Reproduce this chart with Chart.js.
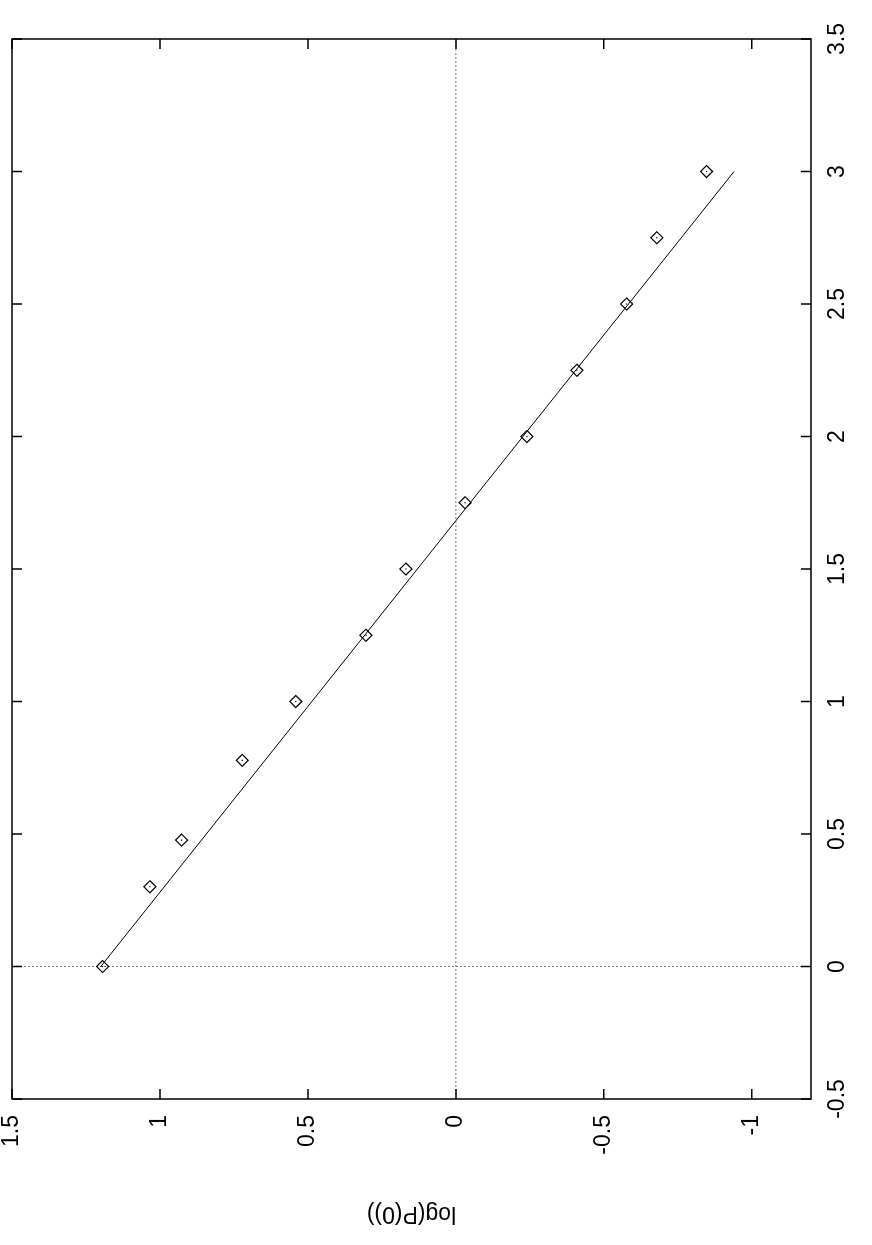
<!DOCTYPE html>
<html>
<head>
<meta charset="utf-8">
<script src="https://cdn.jsdelivr.net/npm/chart.js@4/dist/chart.umd.min.js"></script>
<style>
  html, body { margin: 0; padding: 0; background: #fff; overflow: hidden; }
  /* the plot is drawn upright, then turned a quarter turn to the left like the reference */
  #caixa { position: absolute; left: 0; top: 0; width: 1245px; height: 872px;
           transform-origin: 0 0; transform: translate(0, 1245px) rotate(-90deg); }
</style>
</head>
<body>
<div id="caixa"><canvas id="graficoCanvas" width="1245" height="872"></canvas></div>
<script>
// DADOS
const pontosX = [0, 0.301, 0.477, 0.778, 1.0, 1.25, 1.5, 1.75, 2.0, 2.25, 2.5, 2.75, 3.0]
const pontosY = [1.194, 1.034, 0.927, 0.722, 0.541, 0.304, 0.169, -0.031, -0.240, -0.409, -0.577, -0.679, -0.847]
const retaX = [0, 3.0]
const retaY = [1.20, -0.94]
const ticksX = [-0.5, 0, 0.5, 1, 1.5, 2, 2.5, 3, 3.5]
const ticksY = [-1, -0.5, 0, 0.5, 1, 1.5]
const tituloY = 'log(P(0))'

const fonte = { family: "'Liberation Sans', Arial, sans-serif", size: 23 }

// caixa, ticks para dentro e eixos do zero (como no gnuplot)
const moldura = {
	id: 'moldura',
	beforeDatasetsDraw(chart) {
		const { ctx, chartArea: a, scales: { x, y } } = chart
		const x0 = x.getPixelForValue(0)
		const y0 = y.getPixelForValue(0)
		ctx.save()
		ctx.strokeStyle = '#777'
		ctx.lineWidth = 1
		ctx.setLineDash([2, 2])
		ctx.beginPath()
		ctx.moveTo(x0, a.top); ctx.lineTo(x0, a.bottom)
		ctx.moveTo(a.left, y0); ctx.lineTo(a.right, y0)
		ctx.stroke()
		ctx.restore()
	},
	afterDraw(chart) {
		const { ctx, chartArea: a, scales: { x, y } } = chart
		const tam = 10
		ctx.save()
		ctx.strokeStyle = '#000'
		ctx.lineWidth = 1.5
		ctx.strokeRect(a.left, a.top, a.right - a.left, a.bottom - a.top)
		ctx.beginPath()
		x.ticks.forEach(t => {
			const px = x.getPixelForValue(t.value)
			ctx.moveTo(px, a.bottom); ctx.lineTo(px, a.bottom - tam)
			ctx.moveTo(px, a.top); ctx.lineTo(px, a.top + tam)
		})
		y.ticks.forEach(t => {
			const py = y.getPixelForValue(t.value)
			ctx.moveTo(a.left, py); ctx.lineTo(a.left + tam, py)
			ctx.moveTo(a.right, py); ctx.lineTo(a.right - tam, py)
		})
		ctx.stroke()
		ctx.restore()
	}
}

const ctx = document.getElementById('graficoCanvas').getContext('2d')

const grafico = new Chart(ctx, {
	type: 'scatter',
	data: {
		datasets: [{
			type: 'line',
			data: retaX.map((v, i) => ({ x: v, y: retaY[i] })),
			borderColor: '#000',
			borderWidth: 1,
			pointRadius: 0,
			fill: false
		},
		{
			data: pontosX.map((v, i) => ({ x: v, y: pontosY[i] })),
			pointStyle: 'rectRot',
			pointRadius: 6,
			borderColor: '#000',
			borderWidth: 1.2,
			backgroundColor: 'rgba(0,0,0,0)'
		},
		{
			data: pontosX.map((v, i) => ({ x: v, y: pontosY[i] })),
			pointStyle: 'circle',
			pointRadius: 0.7,
			borderWidth: 0,
			backgroundColor: '#000'
		}]
	},
	options: {
		responsive: false,
		animation: false,
		layout: { padding: { top: 12, right: 39, left: 0, bottom: 0 } },
		scales: {
			x: {
				type: 'linear',
				min: -0.5,
				max: 3.5,
				grid: { display: false, drawTicks: false },
				border: { display: false },
				afterBuildTicks: s => { s.ticks = ticksX.map(v => ({ value: v })) },
				afterFit: s => { s.height = 61; s.paddingLeft = 0; s.paddingRight = 0 },
				ticks: {
					color: '#000',
					font: fonte,
					padding: 13,
					maxRotation: 0,
					callback: v => String(v)
				}
			},
			y: {
				type: 'linear',
				min: -1.2,
				max: 1.5,
				grid: { display: false, drawTicks: false },
				border: { display: false },
				afterBuildTicks: s => { s.ticks = ticksY.map(v => ({ value: v })) },
				afterFit: s => { s.width = 146; s.paddingTop = 0; s.paddingBottom = 0 },
				ticks: {
					color: '#000',
					font: fonte,
					padding: 16,
					callback: v => String(v)
				},
				title: {
					display: true,
					text: tituloY,
					color: '#000',
					font: fonte,
					padding: { top: 18, bottom: 0 }
				}
			}
		},
		plugins: {
			legend: { display: false },
			tooltip: { enabled: false }
		}
	},
	plugins: [moldura]
})
</script>
</body>
</html>
